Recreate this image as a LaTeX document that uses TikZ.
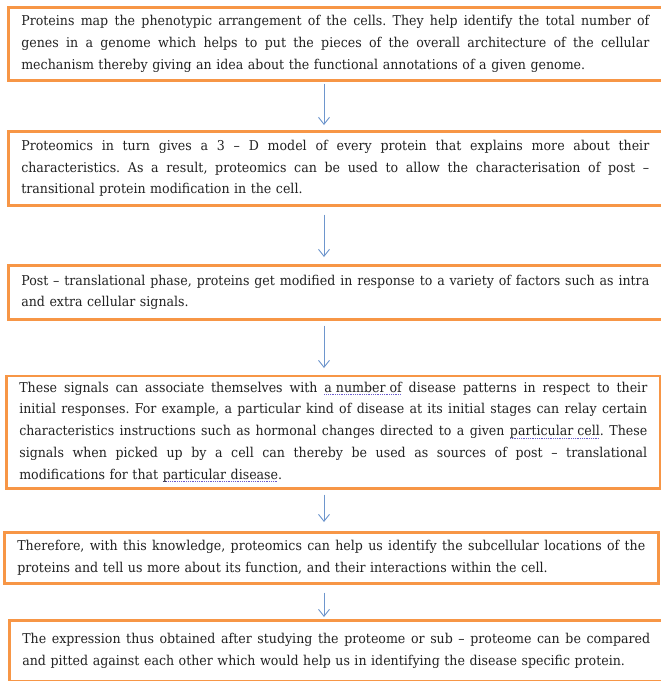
\documentclass[tikz,border=0pt]{standalone}
\usepackage{fontspec}
\setmainfont{DejaVu Serif}[FakeStretch=0.93]
\usetikzlibrary{arrows.meta}
\definecolor{boxorange}{HTML}{F79646}
\definecolor{arrowblue}{HTML}{6E96CD}
\definecolor{spellblue}{HTML}{6A5ACD}
\definecolor{textdark}{HTML}{222222}
\newcommand\spellmark[1]{\setbox0\hbox{#1}\rlap{\lower2.8pt\hbox to \wd0{\color{spellblue}\xleaders\hbox{\rule{0.9pt}{0.7pt}\kern0.9pt}\hfill}}\box0\relax}
\newcommand\jl[1]{\leavevmode\hbox to 628pt{\frenchspacing\spaceskip=\fontdimen2\font plus 2\fontdimen2\font minus 0.3\fontdimen2\font\relax #1}\\}
\newcommand\lastln[1]{\leavevmode\hbox{\frenchspacing #1}}
\tikzset{
  flowbox/.style={draw=boxorange, line width=2.6pt, align=left, text width=628pt,
    inner xsep=13pt, inner ysep=0pt, anchor=north west,
    font=\fontsize{13.55}{21.8}\selectfont, text=textdark},
  extbox/.style={flowbox, text width=640pt},
  flow/.style={draw=arrowblue, line width=0.9pt, -{Straight Barb[length=7pt,width=11pt]}}
}
\begin{document}
\begin{tikzpicture}[x=1pt,y=-1pt]
\useasboundingbox (0,0) rectangle (661,681);
\fill[white] (0,0) rectangle (661,681);
\coordinate (ax) at (324,0);

\node[extbox, minimum height=73pt] (b1) at (7,6) {\jl{Proteins map the phenotypic arrangement of the cells. They help identify the total number of}\jl{genes in a genome which helps to put the pieces of the overall architecture of the cellular}\lastln{mechanism thereby giving an idea about the functional annotations of a given genome.}};

\node[extbox, minimum height=74pt] (b2) at (7,130) {\jl{Proteomics in turn gives a 3 – D model of every protein that explains more about their}\jl{characteristics. As a result, proteomics can be used to allow the characterisation of post –}\lastln{transitional protein modification in the cell.}};

\node[extbox, minimum height=54pt] (b3) at (7,264) {\jl{Post – translational phase, proteins get modified in response to a variety of factors such as intra}\lastln{and extra cellular signals.}};

\node[flowbox, minimum height=112.5pt] (b4) at (5,374.5) {\jl{These signals can associate themselves with \spellmark{a number of} disease patterns in respect to their}\jl{initial responses. For example, a particular kind of disease at its initial stages can relay certain}\jl{characteristics instructions such as hormonal changes directed to a given \spellmark{particular cell}. These}\jl{signals when picked up by a cell can thereby be used as sources of post – translational}\lastln{modifications for that \spellmark{particular disease}.}};

\node[flowbox, minimum height=51pt] (b5) at (3,531) {\jl{Therefore, with this knowledge, proteomics can help us identify the subcellular locations of the}\lastln{proteins and tell us more about its function, and their interactions within the cell.}};

\node[extbox, minimum height=61pt] (b6) at (8,619) {\jl{The expression thus obtained after studying the proteome or sub – proteome can be compared}\lastln{and pitted against each other which would help us in identifying the disease specific protein.}};

\draw[flow, shorten <=2pt, shorten >=5pt] (b1.south -| ax) -- (b2.north -| ax);
\draw[flow, shorten <=8pt, shorten >=7pt] (b2.south -| ax) -- (b3.north -| ax);
\draw[flow, shorten <=5pt, shorten >=6.5pt] (b3.south -| ax) -- (b4.north -| ax);
\draw[flow, shorten <=5pt, shorten >=9pt] (b4.south -| ax) -- (b5.north -| ax);
\draw[flow, shorten <=8pt, shorten >=2pt] (b5.south -| ax) -- (b6.north -| ax);
\end{tikzpicture}
\end{document}
